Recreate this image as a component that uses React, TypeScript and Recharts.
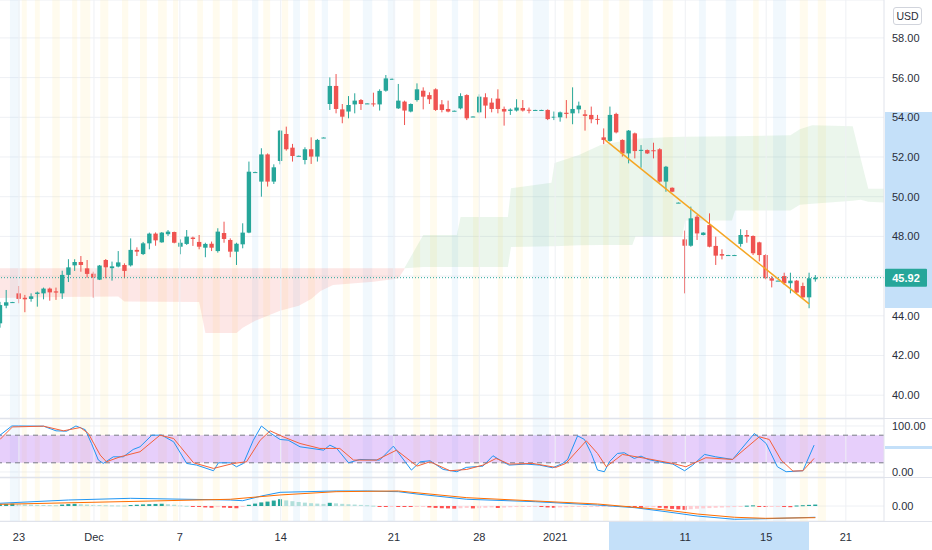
import React from 'react';
import {
  ComposedChart,
  Bar,
  Line,
  Area,
  XAxis,
  YAxis,
  CartesianGrid,
  ReferenceLine,
  ReferenceArea,
} from 'recharts';

// one row per candle: [open, high, low, close]
const candles: number[][] = [
  [43.62, 44.7, 43.4, 44.54], [44.51, 45.3, 44.38, 44.68], [44.68, 44.7, 44.66, 44.69], [45.13, 45.5, 44.63, 44.85],
  [44.91, 45.05, 44.18, 44.83], [44.85, 45.13, 44.71, 44.98], [45.1, 45.22, 44.46, 45.17], [45.13, 45.42, 44.83, 45.37],
  [45.37, 45.42, 44.76, 45.18], [45.23, 45.42, 44.8, 45.17], [45.13, 46.27, 44.85, 46.06], [46.06, 46.85, 45.7, 46.44],
  [46.54, 46.85, 46.26, 46.71], [46.71, 47.01, 46.22, 46.56], [46.39, 46.81, 45.92, 46.11], [46.12, 46.22, 44.91, 45.92],
  [45.82, 46.56, 45.8, 46.53], [46.81, 46.86, 45.89, 46.44], [46.4, 46.73, 45.77, 46.49], [46.48, 47.26, 46.44, 46.69],
  [46.56, 46.64, 45.89, 46.26], [46.54, 47.9, 46.48, 47.32], [47.32, 47.45, 47.01, 47.23], [47.11, 47.72, 47.06, 47.65],
  [47.65, 48.19, 47.35, 48.14], [48.14, 48.2, 47.53, 47.8], [47.7, 48.22, 47.68, 48.19], [48.11, 48.32, 48.02, 48.24],
  [48.22, 48.24, 47.65, 47.68], [47.48, 47.85, 47.1, 47.68], [47.62, 48.32, 47.57, 47.99], [47.94, 47.99, 47.52, 47.87],
  [47.72, 48.07, 47.35, 47.48], [47.43, 47.68, 46.95, 47.62], [47.63, 47.74, 47.26, 47.43], [47.26, 48.41, 47.18, 48.24],
  [48.17, 48.74, 47.68, 47.87], [47.82, 47.9, 46.95, 47.23], [47.23, 47.68, 46.56, 47.63], [47.6, 48.66, 47.4, 48.19],
  [48.19, 51.77, 48.16, 51.26], [51.23, 51.26, 51.22, 51.24], [50.76, 52.44, 50.0, 52.13], [52.13, 52.18, 50.51, 50.76],
  [50.76, 51.63, 50.64, 51.48], [51.8, 53.36, 51.63, 53.33], [53.16, 53.53, 52.32, 52.39], [52.47, 52.66, 51.77, 52.05],
  [52.05, 52.07, 52.04, 52.06], [51.85, 52.49, 51.63, 52.39], [52.39, 52.99, 51.65, 52.02], [52.02, 52.91, 51.77, 52.86],
  [52.97, 52.99, 52.96, 52.98], [54.67, 56.01, 54.37, 55.58], [55.58, 56.18, 54.2, 54.42], [54.4, 54.67, 53.7, 54.03],
  [54.29, 55.07, 53.95, 54.62], [54.65, 55.21, 54.2, 54.84], [54.87, 54.92, 54.37, 54.67], [54.69, 54.71, 54.68, 54.7],
  [54.7, 55.24, 54.54, 54.65], [54.65, 55.41, 54.34, 55.33], [55.34, 56.13, 55.29, 55.96], [55.93, 55.95, 55.92, 55.94],
  [54.45, 55.68, 54.42, 54.84], [54.79, 54.84, 53.61, 54.34], [54.29, 54.7, 54.25, 54.67], [54.87, 55.71, 54.79, 55.41],
  [55.34, 55.51, 54.4, 55.04], [55.12, 55.26, 54.67, 54.91], [55.41, 55.46, 54.32, 54.37], [54.65, 54.87, 54.25, 54.37],
  [54.42, 54.84, 54.25, 54.29], [54.32, 54.34, 54.31, 54.33], [54.45, 55.21, 54.4, 55.07], [55.12, 55.16, 53.86, 53.95],
  [54.03, 54.05, 54.02, 54.04], [54.25, 55.16, 54.2, 55.04], [55.01, 55.21, 53.95, 54.59], [54.74, 54.96, 54.25, 54.42],
  [54.94, 55.41, 54.2, 54.42], [54.42, 54.54, 53.58, 54.29], [54.32, 54.45, 54.12, 54.39], [54.34, 54.91, 54.29, 54.49],
  [54.47, 54.87, 54.29, 54.34], [54.38, 54.49, 54.2, 54.36], [54.37, 54.38, 54.36, 54.37], [54.37, 54.38, 54.36, 54.37],
  [54.37, 54.4, 53.86, 53.91], [53.98, 54.29, 53.86, 54.03], [54.0, 54.29, 53.78, 54.25], [54.23, 54.87, 53.95, 54.17],
  [54.2, 55.51, 53.65, 54.42], [54.4, 54.79, 54.2, 54.59], [54.15, 54.37, 53.33, 54.07], [54.12, 54.54, 53.7, 53.9],
  [53.92, 54.12, 53.64, 53.88], [52.99, 53.44, 52.65, 52.86], [52.81, 54.54, 52.77, 54.12], [54.17, 54.23, 53.19, 53.24],
  [52.86, 52.89, 52.02, 52.18], [52.18, 53.36, 51.68, 53.33], [53.19, 53.23, 51.93, 52.3], [52.33, 52.6, 51.46, 52.36],
  [52.35, 52.38, 52.15, 52.18], [52.34, 52.72, 51.93, 52.3], [52.39, 52.44, 50.71, 50.76], [50.76, 51.55, 50.25, 51.51],
  [50.45, 50.47, 50.23, 50.25], [49.69, 49.71, 49.68, 49.7], [47.85, 48.29, 45.13, 47.53], [47.53, 49.5, 47.48, 48.91],
  [48.99, 49.08, 47.82, 48.15], [48.07, 48.21, 48.05, 48.19], [48.57, 49.16, 47.45, 47.48], [47.52, 47.99, 46.56, 47.03],
  [47.11, 47.35, 46.84, 47.03], [47.06, 47.07, 47.05, 47.06], [47.06, 47.07, 47.05, 47.06], [47.62, 48.36, 47.48, 48.07],
  [48.07, 48.32, 47.68, 47.99], [48.02, 48.05, 47.06, 47.15], [47.7, 47.73, 46.74, 47.06], [47.06, 47.1, 45.84, 45.89],
  [45.89, 46.0, 45.43, 45.77], [45.77, 45.78, 45.76, 45.77], [46.0, 46.17, 45.55, 45.64], [45.64, 46.17, 45.13, 45.77],
  [45.77, 45.8, 45.13, 45.17], [45.5, 45.67, 44.88, 44.93], [44.93, 46.17, 44.38, 45.89], [45.84, 46.05, 45.72, 45.92],
];

// ichimoku cloud edges [bar index, lower, upper]
const cloudBear: number[][] = [
  [0, 44.9, 46.39], [9, 44.95, 46.39], [19, 44.97, 46.39], [20, 44.72, 46.39], [32, 44.7, 46.39],
  [33, 43.13, 46.39], [38, 43.13, 46.39], [39, 43.4, 46.39], [41, 43.75, 46.39], [45, 44.25, 46.39],
  [48, 44.5, 46.39], [50, 44.85, 46.39], [51.5, 45.25, 46.39], [53.5, 45.55, 46.39], [60, 45.72, 46.39],
  [64, 45.88, 46.39], [65, 46.36, 46.39],
];
const cloudBull: number[][] = [
  [65, 46.39, 46.42], [68, 46.46, 48.07], [73.4, 46.46, 48.07], [74, 46.46, 48.98], [81.6, 46.46, 48.98],
  [82.1, 47.47, 50.42], [88.6, 47.5, 50.7], [89.1, 47.5, 51.7], [93, 47.55, 52.1], [96.5, 47.57, 52.6],
  [101.6, 47.57, 52.9], [102.1, 48.0, 52.92], [107, 48.0, 53.0], [109.6, 48.0, 53.02], [110.1, 48.8, 53.02],
  [117.6, 48.8, 53.05], [118.1, 49.3, 53.05], [127, 49.3, 53.1], [128.5, 49.6, 53.4], [130.5, 49.65, 53.6],
  [137, 49.8, 53.55], [138.3, 49.85, 51.9], [139.5, 49.75, 50.4], [142.1, 49.7, 50.4],
];

const stochK: number[][] = [
  [0, 80], [1.9, 100], [3, 100], [7, 99.6], [9, 89.5], [10.7, 88.7], [12.2, 100], [13.7, 92], [14.7, 62],
  [15.8, 26], [16.6, 18.6], [18.2, 33], [19.8, 33], [21.4, 49], [22.5, 54.8], [24.4, 80], [26, 80], [27.9, 65.6],
  [30, 18.6], [31.6, 15], [34.3, 2.7], [35.1, 20], [37, 20], [38, 11.4], [39.1, 18.6], [40.7, 69], [42, 100],
  [43.4, 85], [45, 70.7], [46.3, 69.2], [48.2, 54.8], [52, 47.5], [53, 58.4], [54.1, 51.2], [56, 20], [57.8, 27.3],
  [61, 25.9], [63.2, 56.2], [66.1, 4.2], [67.5, 22.2], [69.1, 24.4], [71.2, 5.6], [73.4, 0.6], [74.9, 10],
  [77.6, 12.8], [79.2, 35.3], [80.8, 22.2], [81.8, 15], [84.5, 17.2], [86.7, 15], [88.8, 9.2], [90.4, 18.6],
  [91.2, 27.3], [92.8, 78.6], [93.9, 70.7], [95, 40.3], [96, 4.2], [97.1, 0.6], [97.9, 22.2], [99.2, 40.3],
  [100.3, 41.8], [101.9, 29.5], [103, 34.5], [104.1, 27.3], [105.9, 22.2], [108.1, 17.2], [110, 2.7], [111.3, 15],
  [113.2, 38.2], [115, 33], [117.7, 27.3], [121.2, 83.7], [123.1, 62], [124.9, 11.4], [126.3, 0.6], [129, 2.7],
  [130.8, 58.4],
];
const stochD: number[][] = [
  [0, 70.7], [2, 98], [7, 99.6], [10.2, 89.5], [12.9, 96.7], [14.2, 83.7], [16.1, 36.7], [17.1, 22.2], [19.3, 33],
  [22.5, 44], [25.7, 80], [27.9, 72.8], [31.1, 20], [34.3, 7.8], [37.5, 18.6], [39.6, 22.2], [41.8, 69], [43.4, 89.5],
  [45.5, 76.5], [48.2, 62], [51.4, 51.2], [54.6, 51.2], [56.8, 25.9], [60.5, 25.9], [63.7, 47.5], [67, 12.8],
  [69.1, 22.2], [72.3, 2.7], [75, 5.6], [77.6, 15], [79.7, 29.5], [81.8, 17.2], [85.6, 18.6], [89.3, 10], [90.9, 18.6],
  [94.2, 67.8], [96, 40.3], [97.4, 11.4], [100, 38.2], [103.8, 29.5], [108.1, 18.6], [110.2, 11.4], [113.4, 31],
  [117.7, 27.3], [122, 76.5], [123.6, 70.7], [125.5, 25.9], [127.4, 2], [129, 2.7], [130.8, 29.5],
];

const macdLine: number[][] = [
  [0, 0.34], [11, 0.75], [21, 0.96], [37, 0.75], [39, 0.66], [42, 1.25], [45, 1.71], [54, 1.88], [59, 1.88],
  [64, 1.79], [67, 1.5], [75, 0.84], [86, 0.54], [96, 0.12], [102, -0.21], [107, -0.71], [112, -1.25],
  [118, -1.66], [123, -1.59], [131, -1.41],
];
const signalLine: number[][] = [
  [0, 0.21], [37, 0.84], [45, 1.38], [54, 1.79], [64, 1.88], [75, 1.04], [96, 0.25], [107, -0.5], [112, -1.0],
  [118, -1.41], [123, -1.54], [131, -1.46],
];
const macdHist: number[] = [
  0.22, 0.26, 0.3, 0.24, 0.2, 0.17, 0.15, 0.13, 0.11, 0.1,
  0.18, 0.24, 0.27, 0.22, 0.18, 0.14, 0.12, 0.1, 0.08, 0.07, 0.06,
  0.12, 0.16, 0.2, 0.23, 0.26, 0.28, 0.22, 0.16,
  0.08, 0.02, -0.05, -0.1, -0.18, -0.22, -0.14, -0.2, -0.25, -0.28, -0.12,
  0.15, 0.3, 0.45, 0.55, 0.68, 0.85, 0.7, 0.6, 0.5, 0.42, 0.35, 0.3, 0.26, 0.4, 0.33, 0.27, 0.22, 0.18, 0.14, 0.1,
  0.04, -0.03, -0.06, -0.04, -0.08, -0.1, -0.12, -0.1, -0.08, -0.18, -0.24, -0.28, -0.3, -0.33, -0.28, -0.24,
  -0.3, -0.27, -0.22, -0.18, -0.25, -0.2, -0.16, -0.13, -0.1, -0.08, -0.06, -0.12, -0.18, -0.22,
  -0.18, -0.15, -0.12, -0.1, -0.08, -0.07, -0.07, -0.06, -0.05, -0.04, -0.03,
  -0.08, -0.15, -0.22, -0.18, -0.15, -0.22, -0.3, -0.36, -0.42, -0.48, -0.4, -0.34, -0.3, -0.26, -0.22,
  -0.19, -0.16, -0.13, -0.1, 0.04, 0.08, -0.04, -0.08, -0.06, -0.05, -0.1, -0.15, 0.06, 0.1, 0.14, 0.18,
];

// session highlight bands [from bar, to bar, kind]
const sessions: [number, number, string][] = [
  [1.6, 3.2, 'b'], [3.5, 4.3, 'y'], [5.6, 6.4, 'y'], [8.4, 9.6, 'y'], [11.6, 12.4, 'y'], [12.9, 14.5, 'y'],
  [16.1, 17.4, 'y'], [19.6, 20.6, 'y'], [22.5, 23.6, 'y'], [25.4, 26.8, 'y'], [27.8, 28.6, 'y'], [31.7, 32.6, 'y'],
  [34.2, 35.3, 'y'], [37.3, 38.2, 'y'], [40.5, 41.5, 'b'], [42.3, 43.4, 'y'], [45.3, 46.3, 'y'], [47.1, 48.2, 'b'],
  [49.5, 50.6, 'y'], [51.7, 52.7, 'b'], [55.1, 56.2, 'y'], [58.3, 59.8, 'b'], [62.3, 63.5, 'b'], [66.4, 67.5, 'y'],
  [69.1, 70.2, 'y'], [72.6, 73.6, 'b'], [76.0, 77.0, 'y'], [80.0, 80.8, 'y'], [82.9, 84.0, 'y'], [85.6, 88.2, 'b'],
  [90.6, 92.1, 'y'], [93.3, 94.6, 'y'], [96.9, 97.8, 'y'], [99.5, 101.1, 'y'], [103.3, 104.9, 'b'], [106.5, 108.1, 'y'],
  [112.3, 113.4, 'b'], [116.6, 118.3, 'b'], [121.0, 121.9, 'y'], [124.2, 126.3, 'b'], [128.5, 129.8, 'y'], [131.4, 132.7, 'y'],
];

const dateTicks = [3.05, 15.1, 28.9, 45.1, 63.3, 77.0, 89.2, 110.1, 123.1, 135.9];
const dateLabels = ['23', 'Dec', '7', '14', '21', '28', '2021', '11', '15', '21'];
const priceTicks = [40, 42, 44, 46, 48, 50, 52, 54, 56, 58];
const trendLine = [{ x: 97.2, y: 52.86 }, { x: 130.0, y: 44.6 }];
const lastPrice = 45.92;

const UP = '#26a69a';
const DOWN = '#ef5350';
const GRID = '#eef0f4';
const BORDER = '#e0e3eb';
const TEXT = '#2a2e39';
const FONT = '"Liberation Sans", Arial, sans-serif';
const X_DOMAIN: [number, number] = [0, 142.03];

const priceRows: any[] = [
  ...candles.map(([o, h, l, c], i) => ({ x: i, o, h, l, c })),
  ...cloudBear.map(([x, lo, hi]) => ({ x, bear: [lo, hi] })),
  ...cloudBull.map(([x, lo, hi]) => ({ x, bull: [lo, hi] })),
].sort((a, b) => a.x - b.x);

const stochRows: any[] = [
  ...stochK.map(([x, k]) => ({ x, k })),
  ...stochD.map(([x, d]) => ({ x, d })),
].sort((a, b) => a.x - b.x);

const macdRows: any[] = [
  ...macdHist.map((v, i) => {
    const prev = i > 0 ? macdHist[i - 1] : 0;
    const col = v >= 0 ? (v >= prev ? '#26a69a' : '#b2dfdb') : v < prev ? '#ff5252' : '#ffcdd2';
    return { x: i, hist: v, col };
  }),
  ...macdLine.map(([x, m]) => ({ x, m })),
  ...signalLine.map(([x, s]) => ({ x, s })),
].sort((a, b) => a.x - b.x);

const Candle = (p: any) => {
  const { x, width, y, height, payload } = p;
  if (!payload || payload.o == null) return <g />;
  const { o, h, l, c } = payload;
  const top = Math.min(y, y + height);
  const span = Math.abs(height);
  const ppu = h > l ? span / (h - l) : 0;
  const cx = x + width / 2;
  const yOf = (v: number) => top + (h - v) * ppu;
  const bTop = yOf(Math.max(o, c));
  const bBot = yOf(Math.min(o, c));
  const col = c >= o ? UP : DOWN;
  return (
    <g>
      <line x1={cx} x2={cx} y1={top} y2={top + span} stroke={col} strokeWidth={1} />
      <rect x={cx - 2.2} y={bTop} width={4.4} height={Math.max(bBot - bTop, 1)} fill={col} />
    </g>
  );
};

const HistBar = (p: any) => {
  const { x, width, y, height, payload } = p;
  if (!payload || payload.hist == null) return <g />;
  const top = Math.min(y, y + height);
  return <rect x={x + width / 2 - 2} y={top} width={4} height={Math.max(Math.abs(height), 1)} fill={payload.col} />;
};

const RightTick = (p: any) => (
  <text x={p.x} y={p.y} dy={4} fill={TEXT} fontSize={11} fontFamily={FONT}>
    {Number(p.payload.value).toFixed(2)}
  </text>
);

// price axis labels that would sit under the last-price tag are left out
const PriceTick = (p: any) =>
  Math.abs(p.payload.value - lastPrice) < 0.6 ? <g /> : <RightTick {...p} />;

const DateTick = (p: any) => {
  const idx = dateTicks.indexOf(p.payload.value);
  return (
    <text x={p.x} y={p.y} dy={12} textAnchor="middle" fill={TEXT} fontSize={11} fontFamily={FONT}>
      {dateLabels[idx] ?? ''}
    </text>
  );
};

const PriceTag = (p: any) => {
  const vb = p.viewBox || {};
  const xx = (vb.x ?? 0) + (vb.width ?? 0);
  const yy = vb.y ?? 0;
  return (
    <g>
      <rect x={xx + 1} y={yy - 9} width={42} height={18} fill={UP} rx={1} />
      <text x={xx + 22} y={yy} dy={4} textAnchor="middle" fill="#fff" fontSize={11} fontWeight={700} fontFamily={FONT}>
        {lastPrice.toFixed(2)}
      </text>
    </g>
  );
};

const sessionBands = () =>
  sessions.map(([a, b, t], i) => (
    <ReferenceArea
      key={`s${i}`}
      x1={a}
      x2={b}
      fill={t === 'y' ? '#ffe9a8' : '#b9dcf7'}
      fillOpacity={t === 'y' ? 0.2 : 0.2}
      stroke="none"
      ifOverflow="hidden"
    />
  ));

const dateGrid = () =>
  dateTicks.map((t) => <ReferenceLine key={`g${t}`} x={t} stroke={GRID} />);

const candleKey = (d: any) => (d.o == null ? null : [d.l, d.h]);
const bearKey = (d: any) => (d.bear ? d.bear : [null, null]);
const bullKey = (d: any) => (d.bull ? d.bull : [null, null]);

const App = () => {
  const margin = { top: 0, right: 0, bottom: 0, left: 0 };
  return (
    <div style={{ position: 'absolute', left: 0, top: 0, width: 932, height: 550, background: '#fff', overflow: 'hidden', fontFamily: FONT }}>
      {/* axis range highlights */}
      <div style={{ position: 'absolute', left: 885, top: 112, width: 47, height: 196, background: '#c4e0f9' }} />
      <div style={{ position: 'absolute', left: 885, top: 446, width: 47, height: 3, background: '#c4e0f9' }} />
      <div style={{ position: 'absolute', left: 609, top: 522, width: 200, height: 28, background: '#c4e0f9' }} />

      <div style={{ position: 'absolute', left: 0, top: 0 }}>
        <ComposedChart width={932} height={418} data={priceRows} margin={margin}>
          <CartesianGrid vertical={false} stroke={GRID} />
          {sessionBands()}
          {dateGrid()}
          <XAxis type="number" dataKey="x" domain={X_DOMAIN} allowDataOverflow hide />
          <YAxis
            orientation="right"
            type="number"
            width={48}
            domain={[38.85, 59.91]}
            allowDataOverflow
            ticks={priceTicks}
            interval={0}
            tickLine={false}
            axisLine={{ stroke: BORDER }}
            tick={PriceTick}
          />
          <Area type="linear" dataKey={bearKey} stroke="none" fill="#ef5350" fillOpacity={0.14} connectNulls isAnimationActive={false} />
          <Area type="linear" dataKey={bullKey} stroke="none" fill="#4caf50" fillOpacity={0.11} connectNulls isAnimationActive={false} />
          <ReferenceLine y={lastPrice} stroke={UP} strokeDasharray="1 2" label={PriceTag} />
          <Bar dataKey={candleKey} barSize={5} shape={Candle} isAnimationActive={false} />
          <ReferenceLine segment={trendLine} stroke="#f5a623" strokeWidth={1.5} ifOverflow="visible" />
        </ComposedChart>
      </div>

      <div style={{ position: 'absolute', left: 0, top: 419 }}>
        <ComposedChart width={932} height={58} data={stochRows} margin={margin}>
          <CartesianGrid vertical={false} stroke={GRID} />
          {sessionBands()}
          {dateGrid()}
          <XAxis type="number" dataKey="x" domain={X_DOMAIN} allowDataOverflow hide />
          <YAxis
            orientation="right"
            type="number"
            width={48}
            domain={[-10.87, 115.2]}
            allowDataOverflow
            ticks={[0, 100]}
            interval={0}
            tickLine={false}
            axisLine={{ stroke: BORDER }}
            tick={RightTick}
          />
          <ReferenceArea y1={20} y2={80} fill="#a64cf0" fillOpacity={0.27} stroke="none" />
          <ReferenceLine y={80} stroke="#787b86" strokeDasharray="5 4" />
          <ReferenceLine y={20} stroke="#787b86" strokeDasharray="5 4" />
          <Line type="linear" dataKey="k" stroke="#2196f3" strokeWidth={1} dot={false} connectNulls isAnimationActive={false} />
          <Line type="linear" dataKey="d" stroke="#f4613a" strokeWidth={1} dot={false} connectNulls isAnimationActive={false} />
        </ComposedChart>
      </div>

      <div style={{ position: 'absolute', left: 0, top: 478 }}>
        <ComposedChart width={932} height={72} data={macdRows} margin={margin}>
          <CartesianGrid vertical={false} stroke={GRID} />
          {sessionBands()}
          {dateGrid()}
          <XAxis
            type="number"
            dataKey="x"
            domain={X_DOMAIN}
            allowDataOverflow
            height={29}
            ticks={dateTicks}
            interval={0}
            tickLine={false}
            axisLine={false}
            tick={DateTick}
          />
          <YAxis
            orientation="right"
            type="number"
            width={48}
            domain={[-1.875, 3.5]}
            allowDataOverflow
            ticks={[0]}
            interval={0}
            tickLine={false}
            axisLine={{ stroke: BORDER }}
            tick={RightTick}
          />
          <Bar dataKey="hist" barSize={4} shape={HistBar} isAnimationActive={false} />
          <Line type="linear" dataKey="m" stroke="#2196f3" strokeWidth={1} dot={false} connectNulls isAnimationActive={false} />
          <Line type="linear" dataKey="s" stroke="#ff6d00" strokeWidth={1} dot={false} connectNulls isAnimationActive={false} />
        </ComposedChart>
      </div>

      {/* pane separators */}
      <div style={{ position: 'absolute', left: 0, top: 418, width: 932, height: 1, background: BORDER }} />
      <div style={{ position: 'absolute', left: 0, top: 477, width: 932, height: 1, background: BORDER }} />
      <div style={{ position: 'absolute', left: 0, top: 521, width: 932, height: 1, background: BORDER }} />

      <div
        style={{
          position: 'absolute',
          left: 893,
          top: 7,
          width: 27,
          height: 16,
          border: '1px solid #d1d4dc',
          borderRadius: 3,
          background: '#fff',
          fontSize: 10.5,
          lineHeight: '16px',
          textAlign: 'center',
          color: TEXT,
        }}
      >
        USD
      </div>
    </div>
  );
};

export default App;
